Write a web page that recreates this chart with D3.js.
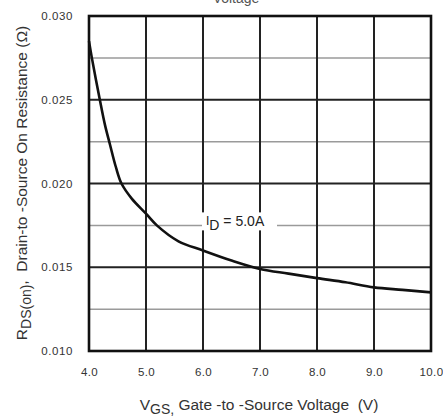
<!DOCTYPE html>
<html><head><meta charset="utf-8">
<script src="https://cdn.jsdelivr.net/npm/d3@7"></script>
<style>html,body{margin:0;padding:0;background:#fff;}svg{display:block;}</style>
</head><body>
<script>
const xTicks = [4, 5, 6, 7, 8, 9, 10];
const xTickLabels = ["4.0", "5.0", "6.0", "7.0", "8.0", "9.0", "10.0"];
const yMajor = [0.010, 0.015, 0.020, 0.025, 0.030];
const yMajorLabels = ["0.010", "0.015", "0.020", "0.025", "0.030"];
const yMinor = [0.0125, 0.0175, 0.0225, 0.0275];
const vgs = [4.0, 4.05, 4.19, 4.28, 4.37, 4.47, 4.57, 4.75, 5.0, 5.19, 5.57, 6.0, 6.5, 7.0, 7.5, 8.0, 8.5, 9.0, 9.5, 10.0];
const rds = [0.0285, 0.0275, 0.0250, 0.0235, 0.0223, 0.0210, 0.0200, 0.0191, 0.0182, 0.0175, 0.01655, 0.0160, 0.0154, 0.0149, 0.01462, 0.01435, 0.0141, 0.0138, 0.01365, 0.0135];

const W = 443, H = 419;
const L = 89, R = 431, T = 16, B = 351;
const svg = d3.select("body").append("svg").attr("width", W).attr("height", H);
const x = d3.scaleLinear().domain([4, 10]).range([L, R]);
const y = d3.scaleLinear().domain([0.010, 0.030]).range([B, T]);
const font = "Liberation Sans, Arial, sans-serif";

// cropped title fragment at top (as in the reference scan)
svg.append("text").attr("x", 236).attr("y", 3).attr("text-anchor", "middle")
  .attr("font-family", font).attr("font-size", 14).attr("fill", "#555").text("Voltage");

// minor horizontal grid
svg.append("g").selectAll("line").data(yMinor).join("line")
  .attr("x1", L).attr("x2", R).attr("y1", d => y(d)).attr("y2", d => y(d))
  .attr("stroke", "#9a9a9a").attr("stroke-width", 1.5);
// major horizontal grid
svg.append("g").selectAll("line").data(yMajor).join("line")
  .attr("x1", L).attr("x2", R).attr("y1", d => y(d)).attr("y2", d => y(d))
  .attr("stroke", "#222").attr("stroke-width", 2);
// vertical grid
svg.append("g").selectAll("line").data(xTicks).join("line")
  .attr("x1", d => x(d)).attr("x2", d => x(d)).attr("y1", T).attr("y2", B)
  .attr("stroke", "#222").attr("stroke-width", 2);

// label with white background
const lab = svg.append("g").attr("transform", `translate(${x(6.0)},${y(0.0175)})`);
lab.append("rect").attr("x", -1).attr("y", -13).attr("width", 75).attr("height", 18).attr("fill", "#fff");
const lt = lab.append("text").attr("x", 3).attr("y", 1).attr("font-family", font).attr("font-size", 14).attr("fill", "#222");
lt.append("tspan").attr("font-size", 12).attr("dy", -1).text("I");
lt.append("tspan").attr("dy", 5).attr("font-size", 14).text("D");
lt.append("tspan").attr("dy", -4).text(" = 5.0A");

// curve
const pts = vgs.map((v, i) => [v, rds[i]]);
svg.append("path").datum(pts)
  .attr("d", d3.line().x(d => x(d[0])).y(d => y(d[1])).curve(d3.curveCatmullRom.alpha(0.5)))
  .attr("fill", "none").attr("stroke", "#111").attr("stroke-width", 2.6);

// border
svg.append("rect").attr("x", L).attr("y", T).attr("width", R - L).attr("height", B - T)
  .attr("fill", "none").attr("stroke", "#111").attr("stroke-width", 2.6);

// axes tick labels
const yAxis = d3.axisLeft(y).tickValues(yMajor).tickFormat((d, i) => yMajorLabels[i]).tickSize(0).tickPadding(16);
const gy = svg.append("g").attr("transform", `translate(${L},0)`).call(yAxis);
gy.select(".domain").remove();
gy.selectAll("text").attr("font-family", font).attr("font-size", 11.5).attr("fill", "#333").attr("letter-spacing", 0.6);

const xAxis = d3.axisBottom(x).tickValues(xTicks).tickFormat((d, i) => xTickLabels[i]).tickSize(0).tickPadding(17);
const gx = svg.append("g").attr("transform", `translate(0,${B})`).call(xAxis);
gx.select(".domain").remove();
gx.selectAll("text").attr("font-family", font).attr("font-size", 11.5).attr("fill", "#333").attr("letter-spacing", 0.4);

// x title
const xt = svg.append("text").attr("x", 259).attr("y", 410).attr("text-anchor", "middle")
  .attr("font-family", font).attr("font-size", 15.5).attr("fill", "#333");
xt.append("tspan").text("V");
xt.append("tspan").attr("dy", 4).attr("font-size", 14).text("GS,");
xt.append("tspan").attr("dy", -4).text(" Gate -to -Source Voltage\u00a0\u00a0(V)");

// y title
const yt = svg.append("text").attr("transform", `translate(27,183) rotate(-90)`).attr("text-anchor", "middle")
  .attr("font-family", font).attr("font-size", 15.5).attr("fill", "#333");
yt.append("tspan").text("R");
yt.append("tspan").attr("dy", 4).attr("font-size", 14).text("DS(on)");
yt.append("tspan").attr("dy", -4).text(",\u00a0\u00a0Drain-to -Source On Resistance (Ω)");
</script>
</body></html>
